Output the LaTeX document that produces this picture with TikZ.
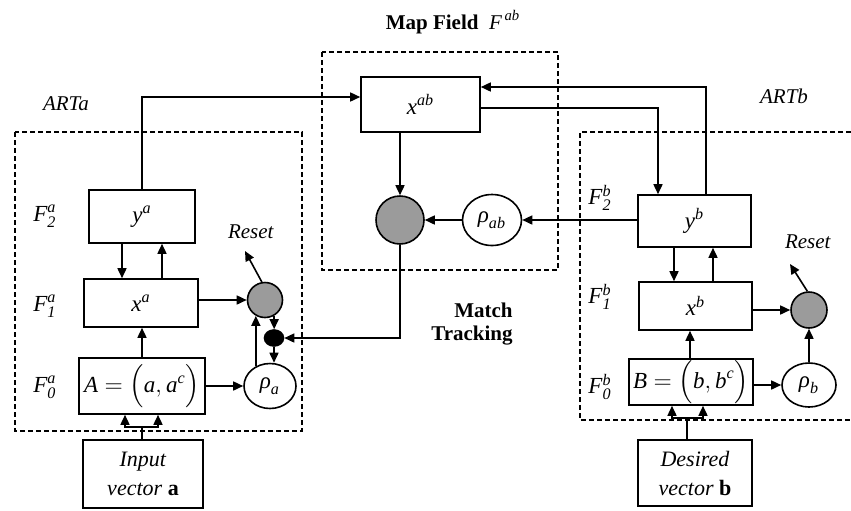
\documentclass[tikz,border=0pt]{standalone}
\usepackage{amsmath}
\usepackage{fontspec}
\setmainfont{Liberation Serif}
\usetikzlibrary{calc,arrows.meta,shapes.geometric}
\definecolor{disc}{RGB}{155,155,155}
% italic letters taken from the text face so that symbols match the labels
\newcommand{\vi}[1]{\textit{#1}}

\begin{document}
\begin{tikzpicture}[x=0.5pt,y=-0.5pt,
  font=\fontsize{10.5}{12.6}\selectfont,
  line width=0.8pt,
  arr/.style={-{Triangle[length=5pt,width=4.5pt]}},
  layer/.style={draw,rectangle,inner sep=0pt,font=\fontsize{11.5}{13}\selectfont},
  dashbox/.style={draw,line width=0.7pt,dash pattern=on 2.5pt off 1.5pt},
  gdisc/.style={draw,circle,fill=disc,inner sep=0pt},
  vig/.style={draw,ellipse,inner sep=0pt,font=\fontsize{11.5}{13}\selectfont},
  lbl/.style={inner sep=0pt},
  flbl/.style={inner sep=0pt,font=\fontsize{11.5}{13}\selectfont},
  twoline/.style={align=center,font=\fontsize{11}{14.5}\selectfont},
]
\useasboundingbox (0,0) rectangle (851,510);

% ---- enclosing fields
\draw[dashbox] (15,132) rectangle (302,431);
\draw[dashbox] (322,52) rectangle (558,270);
\draw[dashbox] (851,132) -- (580,132) -- (580,420) -- (851,420);

% ---- titles
\node[lbl,anchor=west] (mftitle) at (385,22) {\textbf{Map Field}\ \ $\vi{F}^{\,\vi{ab}}$};
\node[lbl] (arta) at (66,104) {\textit{ARTa}};
\node[lbl] (artb) at (784,96) {\textit{ARTb}};
\node[lbl,align=right,font=\bfseries\fontsize{10.5}{11.5}\selectfont] (mt) at (472,324) {Match\\Tracking};

% ---- ART a
\node[flbl] (f2a) at (45,216) {$\vi{F}^{\vi{a}}_{\vi{2}}$};
\node[flbl] (f1a) at (45,306) {$\vi{F}^{\vi{a}}_{\vi{1}}$};
\node[flbl] (f0a) at (45,387) {$\vi{F}^{\vi{a}}_{\vi{0}}$};
\node[layer,minimum width=53pt,minimum height=26.5pt] (ya) at (142,216.5) {$\vi{y}^{\vi{a}}$};
\node[layer,minimum width=57pt,minimum height=24pt] (xa) at (141,303) {$\vi{x}^{\vi{a}}$};
\node[layer,minimum width=63pt,minimum height=28pt] (A) at (142,386) {$\vi{A}=\Bigl(\vi{a},\vi{a}^{\vi{c}}\Bigr)$};
\node[layer,twoline,minimum width=60pt,minimum height=34pt] (ina) at (143,474) {\textit{Input}\\\textit{vector} \textbf{a}};
\node[gdisc,minimum size=17.5pt] (ga) at (265,300) {};
\node[draw,ellipse,fill=black,minimum width=9.5pt,minimum height=8pt,inner sep=0pt] (dot) at (274,338) {};
\node[vig,minimum width=26pt,minimum height=22.5pt] (rhoa) at (270,386) {$\vi{ρ}_{\vi{a}}$};
\node[lbl] (reseta) at (251,232) {\textit{Reset}};
\coordinate (ra) at (245,251);

% ---- map field
\node[layer,minimum width=59.5pt,minimum height=27.5pt] (xab) at (420.5,104.5) {$\vi{x}^{\vi{ab}}$};
\node[gdisc,minimum size=24pt] (gab) at (400,220) {};
\node[vig,minimum width=29.5pt,minimum height=25.5pt] (rhoab) at (492,220) {$\vi{ρ}_{\vi{ab}}$};

% ---- ART b
\node[flbl] (f2b) at (600,198) {$\vi{F}^{\vi{b}}_{\vi{2}}$};
\node[flbl] (f1b) at (600,297) {$\vi{F}^{\vi{b}}_{\vi{1}}$};
\node[flbl] (f0b) at (600,387) {$\vi{F}^{\vi{b}}_{\vi{0}}$};
\node[layer,minimum width=56.5pt,minimum height=26pt] (yb) at (694.5,221) {$\vi{y}^{\vi{b}}$};
\node[layer,minimum width=56.5pt,minimum height=24pt] (xb) at (695.5,306) {$\vi{x}^{\vi{b}}$};
\node[layer,minimum width=62pt,minimum height=23pt] (B) at (691,382) {$\vi{B}=\Bigl(\vi{b},\vi{b}^{\vi{c}}\Bigr)$};
\node[layer,twoline,minimum width=57pt,minimum height=33pt] (inb) at (695,473) {\textit{Desired}\\\textit{vector} \textbf{b}};
\node[gdisc,minimum size=18pt] (gb) at (809,310) {};
\node[vig,minimum width=27pt,minimum height=22pt] (rhob) at (809,385) {$\vi{ρ}_{\vi{b}}$};
\node[lbl] (resetb) at (808,242) {\textit{Reset}};
\coordinate (rb) at (790,264);

% ---- ART a connections
\draw[arr] ($(ya.south)+(-20,0)$) -- ($(xa.north)+(-19,0)$);
\draw[arr] ($(xa.north)+(21,0)$) -- ($(ya.south)+(20,0)$);
\draw[arr] (A.north) -- (A.north |- xa.south);
\draw[arr] (xa.east |- ga) -- (ga.west);
\draw[arr] (A.east |- rhoa) -- (rhoa.west);
\draw[arr] ($(ga.240 |- rhoa.north)+(0,3)$) -- (ga.240);
\draw[arr] (ga.300) -- (ga.300 |- dot.north);
\draw[arr] (dot.south) -- (dot.south |- rhoa.north);
\draw[arr] (ga.100) -- (ra);
\coordinate (fa) at (142,427);
\draw (ina.north -| fa) -- (fa);
\draw[arr] (fa) -| ($(A.south)+(-17,0)$);
\draw[arr] (fa) -| ($(A.south)+(16,0)$);

% ---- map field connections
\draw[arr] (ya.north) |- ($(xab.west)+(0,-7.5)$);
\draw[arr] ($(yb.north)+(11.5,0)$) |- ($(xab.east)+(0,-17.5)$);
\draw[arr] ($(xab.east)+(0,3.5)$) -| ($(yb.north)+(-36.5,0)$);
\draw[arr] (gab |- xab.south) -- (gab.north);
\draw[arr] (yb.west |- rhoab) -- (rhoab.east);
\draw[arr] (rhoab.west) -- (gab.east);
\draw[arr] (gab.south) |- (dot.east);

% ---- ART b connections
\draw[arr] ($(yb.south)+(-20.5,0)$) -- ($(xb.north)+(-21.5,0)$);
\draw[arr] ($(xb.north)+(17.5,0)$) -- ($(yb.south)+(18.5,0)$);
\draw[arr] ($(B.north)+(-1,0)$) -- ($(B.north |- xb.south)+(-1,0)$);
\draw[arr] (xb.east |- gb) -- (gb.west);
\draw[arr] (B.east |- rhob) -- (rhob.west);
\draw[arr] (rhob.north) -- (gb.south);
\draw[arr] (gb.95) -- (rb);
\coordinate (fb) at (687,418);
\draw (inb.north -| fb) -- (fb);
\draw[arr] (fb) -| ($(B.south)+(-19,0)$);
\draw[arr] (fb) -| ($(B.south)+(12,0)$);
\end{tikzpicture}
\end{document}
